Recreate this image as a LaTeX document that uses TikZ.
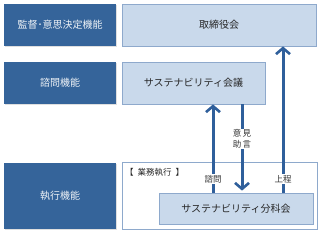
\documentclass[tikz,border=0pt]{standalone}
\usepackage{fontspec}
\setmainfont{Noto Sans CJK JP}
\usetikzlibrary{arrows.meta,shadows}
\definecolor{dk}{HTML}{35649A}
\definecolor{lt}{HTML}{C9D9EB}
\definecolor{bd}{HTML}{8EA9CC}
\definecolor{ar}{HTML}{2F5F9B}
\begin{document}
\begin{tikzpicture}[x=1pt,y=-1pt,
  func/.style={fill=dk, draw=none, text=white!92!dk, inner sep=0pt, font=\fontsize{10}{12}\selectfont,
    drop shadow={shadow xshift=1pt,shadow yshift=-1pt,opacity=0.25}},
  org/.style={fill=lt, draw=bd, line width=0.8pt, inner sep=0pt, text=black!85, font=\fontsize{10}{12}\selectfont,
    drop shadow={shadow xshift=1.2pt,shadow yshift=-1.2pt,opacity=0.3}},
  frame/.style={fill=white, draw=bd, line width=0.7pt, inner sep=0pt},
  flow/.style={draw=ar, line width=3pt, -{Straight Barb[length=6pt,width=14pt,line width=2.6pt]}},
  lbl/.style={fill=white, inner sep=1pt, text=black!80, font=\fontsize{8.5}{11}\selectfont, align=center}
]
\useasboundingbox[fill=white] (0,0) rectangle (320,233);
\node[func, minimum width=112pt, minimum height=42pt] (f1) at (60,25) {監督･意思決定機能};
\node[func, minimum width=112pt, minimum height=42pt] (f2) at (60,83) {諮問機能};
\node[func, minimum width=112pt, minimum height=66pt] (f3) at (60,196) {執行機能};
\node[org, minimum width=194pt, minimum height=42pt] (board) at (219,25) {取締役会};
\node[org, minimum width=143pt, minimum height=42pt] (kaigi) at (193.5,83) {サステナビリティ会議};
\node[frame, minimum width=195pt, minimum height=67pt] (exec) at (219.5,195.5) {};
\node[anchor=west, inner sep=0pt, text=black!85, font=\fontsize{8.5}{10}\selectfont] (execlbl) at (125,172) {【\hspace{4pt}業務執行\hspace{4pt}】};
\node[org, minimum width=154pt, minimum height=31pt] (bunka) at (236,208.5) {サステナビリティ分科会};
\coordinate (xa) at (213,0);
\coordinate (xb) at (242,0);
\coordinate (xc) at (283,0);
\draw[flow] (bunka.north -| xa) -- (kaigi.south -| xa);
\draw[flow] (kaigi.south -| xb) -- ([yshift=2pt]bunka.north -| xb);
\draw[flow] (bunka.north -| xc) -- (board.south -| xc);
\node[lbl] (l1) at (242,139) {意\,見\\助\,言};
\node[lbl] (l2) at (213,179) {諮問};
\node[lbl] (l3) at (283,179) {上程};
\end{tikzpicture}
\end{document}
